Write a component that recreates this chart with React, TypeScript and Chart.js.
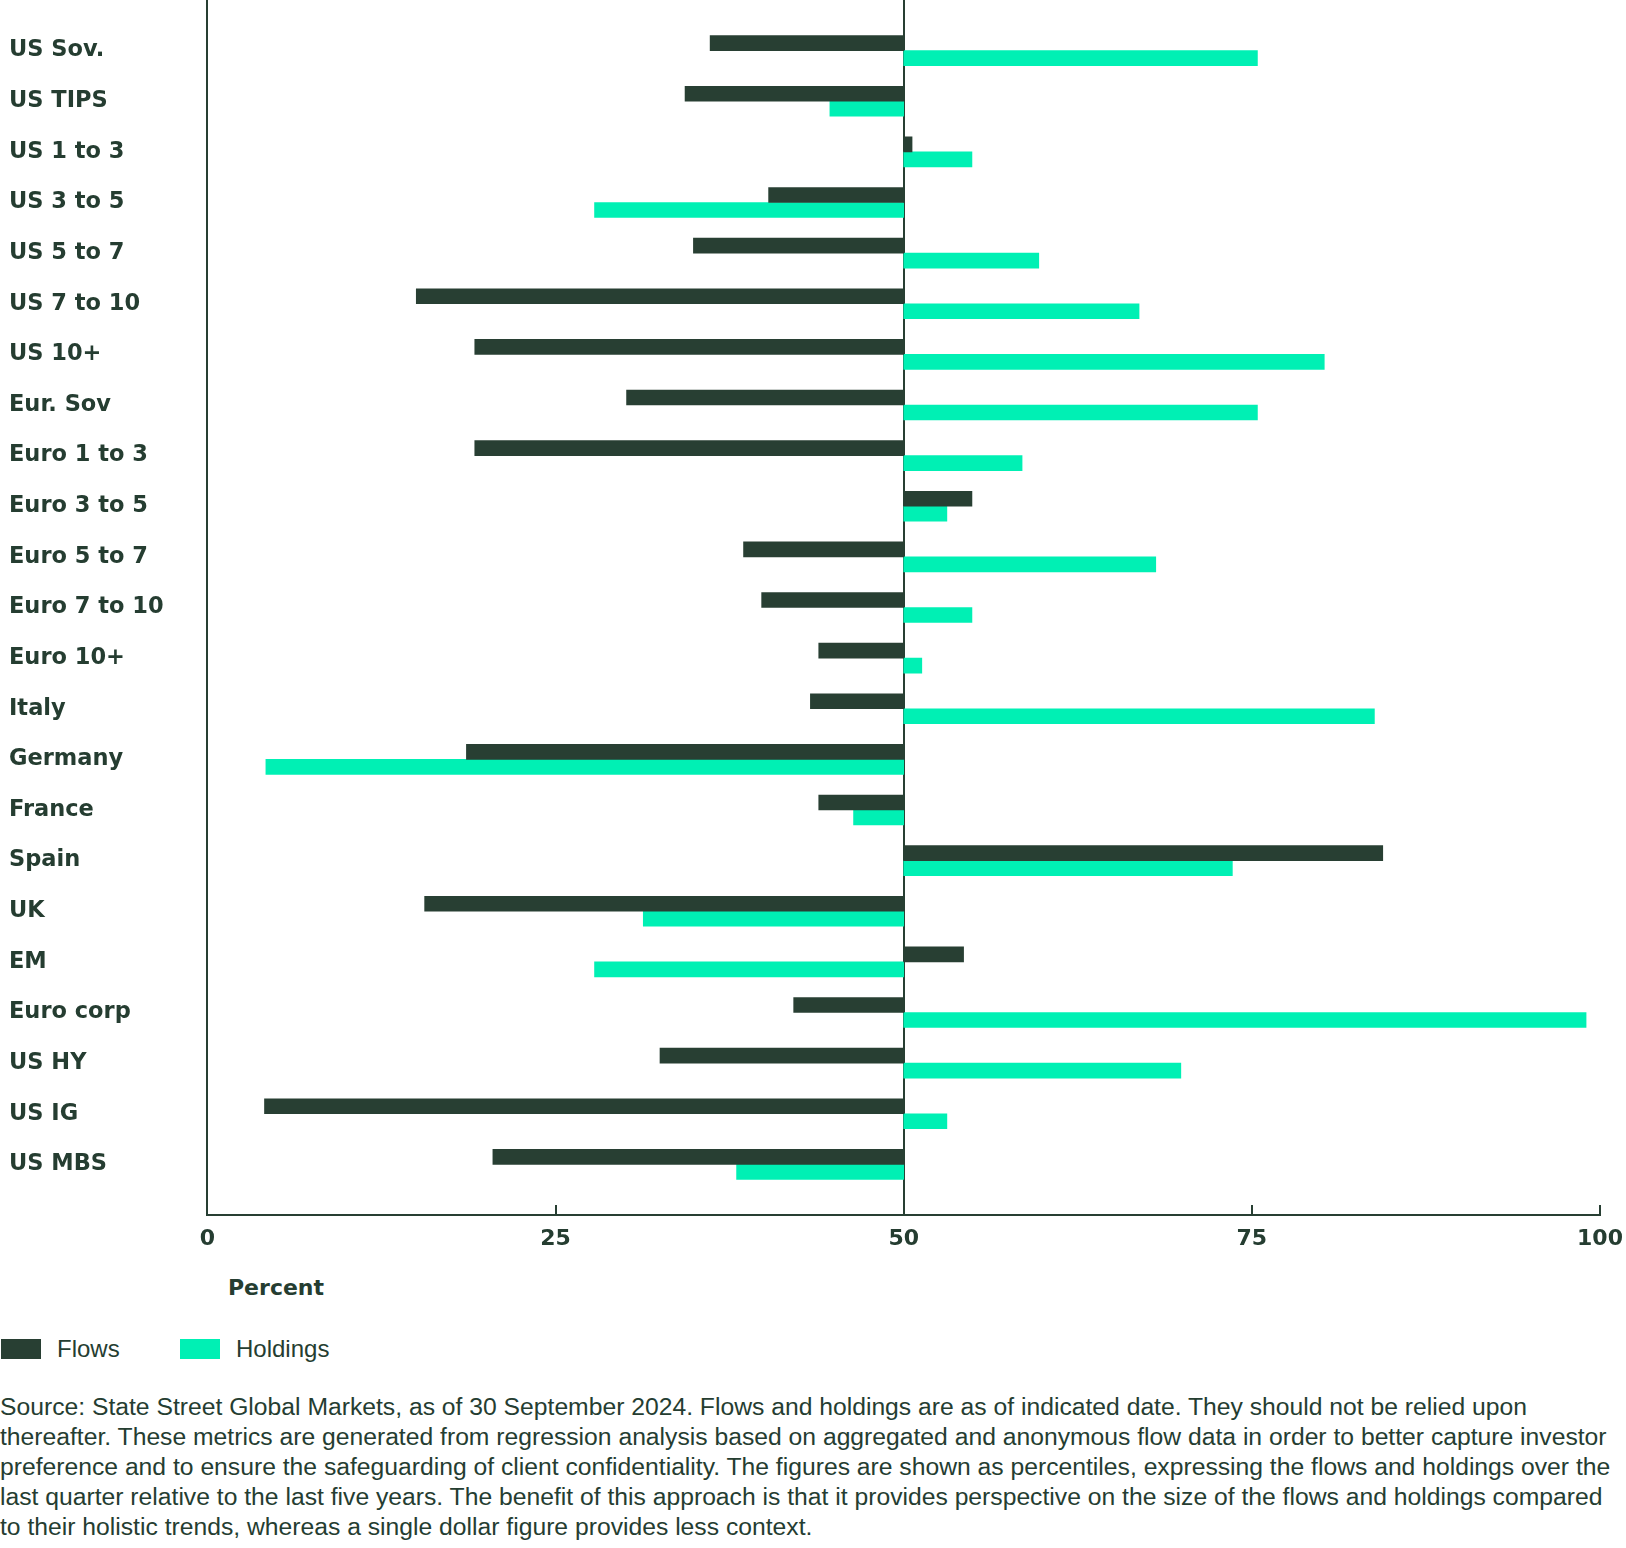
import React, { useEffect, useRef } from 'react';
import { Chart, registerables } from 'chart.js';

Chart.register(...registerables);

const categories = [
  'US Sov.', 'US TIPS', 'US 1 to 3', 'US 3 to 5', 'US 5 to 7', 'US 7 to 10', 'US 10+',
  'Eur. Sov', 'Euro 1 to 3', 'Euro 3 to 5', 'Euro 5 to 7', 'Euro 7 to 10', 'Euro 10+',
  'Italy', 'Germany', 'France', 'Spain', 'UK', 'EM', 'Euro corp', 'US HY', 'US IG', 'US MBS',
];
const flows = [36.1, 34.3, 50.6, 40.3, 34.9, 15.0, 19.2, 30.1, 19.2, 54.9, 38.5, 39.8, 43.9, 43.3, 18.6, 43.9, 84.4, 15.6, 54.3, 42.1, 32.5, 4.1, 20.5];
const holdings = [75.4, 44.7, 54.9, 27.8, 59.7, 66.9, 80.2, 75.4, 58.5, 53.1, 68.1, 54.9, 51.3, 83.8, 4.2, 46.4, 73.6, 31.3, 27.8, 99.0, 69.9, 53.1, 38.0];
const seriesNames = ['Flows', 'Holdings'];
const baseline = 50;
const xTicks = [0, 25, 50, 75, 100];
const sourceLines = [
  'Source: State Street Global Markets, as of 30 September 2024. Flows and holdings are as of indicated date. They should not be relied upon',
  'thereafter. These metrics are generated from regression analysis based on aggregated and anonymous flow data in order to better capture investor',
  'preference and to ensure the safeguarding of client confidentiality. The figures are shown as percentiles, expressing the flows and holdings over the',
  'last quarter relative to the last five years. The benefit of this approach is that it provides perspective on the size of the flows and holdings compared',
  'to their holistic trends, whereas a single dollar figure provides less context.',
];

const DARK = '#283F33';
const MINT = '#00F0B4';
const TEXT = '#253D31';
const colors = [DARK, MINT];

const innerTicks = {
  id: 'innerTicks',
  afterDatasetsDraw(chart: any) {
    const { ctx, chartArea, scales } = chart;
    const x = scales.x;
    ctx.save();
    ctx.strokeStyle = DARK;
    ctx.lineWidth = 2;
    x.ticks.forEach((t: any) => {
      const px = Math.round(x.getPixelForValue(t.value));
      ctx.beginPath();
      ctx.moveTo(px, chartArea.bottom);
      ctx.lineTo(px, chartArea.bottom - 10);
      ctx.stroke();
    });
    ctx.restore();
  },
};

export default function App() {
  const ref = useRef<HTMLCanvasElement>(null);
  useEffect(() => {
    const labels = ['', ...categories, ''];
    const toBars = (arr: number[]) => [null, ...arr.map((v) => [baseline, v]), null];
    const chart = new Chart(ref.current!, {
      type: 'bar',
      data: {
        labels,
        datasets: [
          { label: seriesNames[0], data: toBars(flows) as any, backgroundColor: colors[0], barThickness: 15, borderWidth: 0 },
          { label: seriesNames[1], data: toBars(holdings) as any, backgroundColor: colors[1], barThickness: 15, borderWidth: 0 },
        ],
      },
      options: {
        indexAxis: 'y',
        responsive: false,
        animation: false,
        devicePixelRatio: 1,
        layout: { padding: { left: 9, right: 0, top: 0, bottom: 0 } },
        plugins: { legend: { display: false }, tooltip: { enabled: false } },
        scales: {
          x: {
            type: 'linear',
            min: 0,
            max: 100,
            afterBuildTicks: (scale: any) => {
              scale.ticks = xTicks.map((v) => ({ value: v }));
            },
            afterFit: (scale: any) => {
              scale.height = 45;
              scale.paddingRight = 26;
              scale.paddingLeft = 0;
            },
            grid: {
              drawTicks: false,
              color: (ctx: any) => (ctx.tick && ctx.tick.value === baseline ? DARK : 'rgba(0,0,0,0)'),
              lineWidth: 2,
            },
            border: { display: true, color: DARK, width: 2 },
            ticks: {
              color: TEXT,
              padding: 11,
              font: { family: '"DejaVu Sans"', size: 22, weight: 'bold' },
            },
          },
          y: {
            type: 'category',
            offset: false,
            afterFit: (scale: any) => {
              scale.width = 198.4;
              scale.paddingTop = 0;
              scale.paddingBottom = 0;
            },
            grid: { display: false },
            border: { display: true, color: DARK, width: 2 },
            ticks: {
              autoSkip: false,
              color: TEXT,
              crossAlign: 'far',
              padding: 0,
              font: { family: '"DejaVu Sans"', size: 22.5, weight: 'bold' },
              callback: function (this: any, value: any) {
                const l = this.getLabelForValue(value);
                return l ? l : [];
              },
            },
          },
        },
      } as any,
      plugins: [innerTicks],
    });
    return () => chart.destroy();
  }, []);

  return (
    <div style={{ position: 'absolute', left: 0, top: 0, width: 1626, height: 1548, background: '#fff', color: TEXT }}>
      <canvas
        ref={ref}
        width={1626}
        height={1260}
        style={{ position: 'absolute', left: 0, top: 0, width: 1626, height: 1260 }}
      />
      <div style={{ position: 'absolute', left: 228, top: 1273, font: 'bold 22px "DejaVu Sans"', lineHeight: '30px', whiteSpace: 'nowrap' }}>
        Percent
      </div>
      {seriesNames.map((name, i) => (
        <div key={name}>
          <div style={{ position: 'absolute', left: i === 0 ? 1 : 180, top: 1339, width: 40, height: 20, background: colors[i] }} />
          <div style={{ position: 'absolute', left: i === 0 ? 57 : 236, top: 1334, font: '24px "Liberation Sans"', lineHeight: '30px', whiteSpace: 'nowrap' }}>
            {name}
          </div>
        </div>
      ))}
      <div style={{ position: 'absolute', left: 0, top: 1392, font: '24.7px "Liberation Sans"', lineHeight: '30px' }}>
        {sourceLines.map((l) => (
          <div key={l} style={{ whiteSpace: 'nowrap' }}>{l}</div>
        ))}
      </div>
    </div>
  );
}
